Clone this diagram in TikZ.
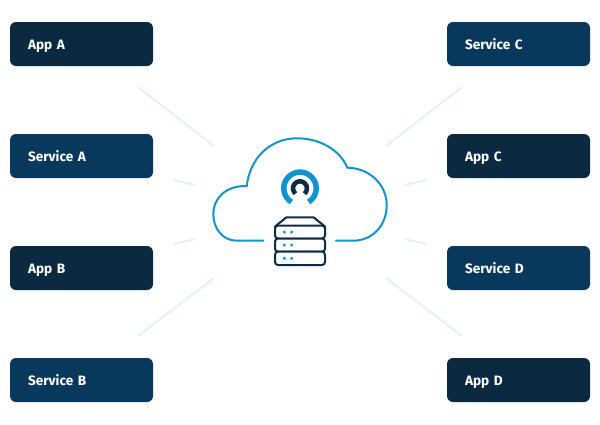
\documentclass[tikz,border=0pt]{standalone}
\usepackage{fontspec}
\setmainfont{Fira Sans}[BoldFont={Fira Sans Bold}]
\definecolor{appc}{HTML}{0B2A42}
\definecolor{svcc}{HTML}{08395C}
\definecolor{linkc}{HTML}{E0F0F7}
\definecolor{bluec}{HTML}{0F94CF}
\definecolor{darkc}{HTML}{0F2C44}
\tikzset{
  box/.style={rounded corners=6pt,minimum width=143pt,minimum height=44pt,inner sep=0pt,text=white,font=\fontsize{13.6}{15}\selectfont\bfseries,align=left,text width=107pt,text height=11pt,text depth=1pt},
  appbox/.style={box,fill=appc},
  svcbox/.style={box,fill=svcc},
  linkline/.style={draw=linkc,line width=1.7pt},
  cloudline/.style={draw=bluec,line width=2pt,line cap=round},
  srv/.style={draw=darkc,line width=2pt,line join=round,fill=white},
  srvdot/.style={circle,fill=bluec,inner sep=0pt,minimum size=3.4pt}
}
\begin{document}
\begin{tikzpicture}[x=1pt,y=-1pt]
\useasboundingbox (0,0) rectangle (600,424);
\node[appbox] (a1) at (81.5,44) {App A};
\node[svcbox] (s1) at (81.5,156) {Service A};
\node[appbox] (a2) at (81.5,268) {App B};
\node[svcbox] (s2) at (81.5,380) {Service B};
\node[svcbox] (s3) at (518.5,44) {Service C};
\node[appbox] (a3) at (518.5,156) {App C};
\node[svcbox] (s4) at (518.5,268) {Service D};
\node[appbox] (a4) at (518.5,380) {App D};
\foreach \n/\ax/\ay/\bx/\by in {l1/138/87/214/146,l2/174/180/195/185,l3/174/244/195/239,l4/138/336/214/278,r1/462/87/386/146,r2/426/180/405/185,r3/426/244/405/239,r4/462/336/386/278}{
  \coordinate (\n a) at (\ax,\ay);
  \coordinate (\n b) at (\bx,\by);
  \draw[linkline] (\n a) -- (\n b);
}
\draw[cloudline] (263.3,240.7) -- (237,240.7)
  .. controls (222,240.7) and (213.3,228) .. (213.3,214)
  .. controls (213.3,198) and (226,185.5) .. (246.7,186)
  .. controls (250,158) and (270,138.3) .. (297,138.3)
  .. controls (320,138.3) and (340,150) .. (347.3,167.7)
  .. controls (370,168) and (386.7,185) .. (386.7,205)
  .. controls (386.7,226) and (372,240.7) .. (353,240.7)
  -- (336,240.7);
\draw[bluec,line width=5.5pt] (300,188.3) ++(122:16.2) arc (122:418:16.2);
\draw[darkc,line width=4.6pt] (300,188.3) ++(130:7) arc (130:410:7);
\draw[srv] (286.5,217.3) -- (313.5,217.3) -- (325,226.5) -- (275,226.5) -- cycle;
\draw[srv,rounded corners=3pt] (275,225.5) rectangle (325,238.5);
\draw[srv,rounded corners=3pt] (275,238.5) rectangle (325,251.7);
\draw[srv,rounded corners=3pt] (275,251.7) rectangle (325,265);
\foreach \yy in {232,245,258.3}{
  \node[srvdot] at (284.3,\yy) {};
  \node[srvdot] at (291.7,\yy) {};
}
\end{tikzpicture}
\end{document}
